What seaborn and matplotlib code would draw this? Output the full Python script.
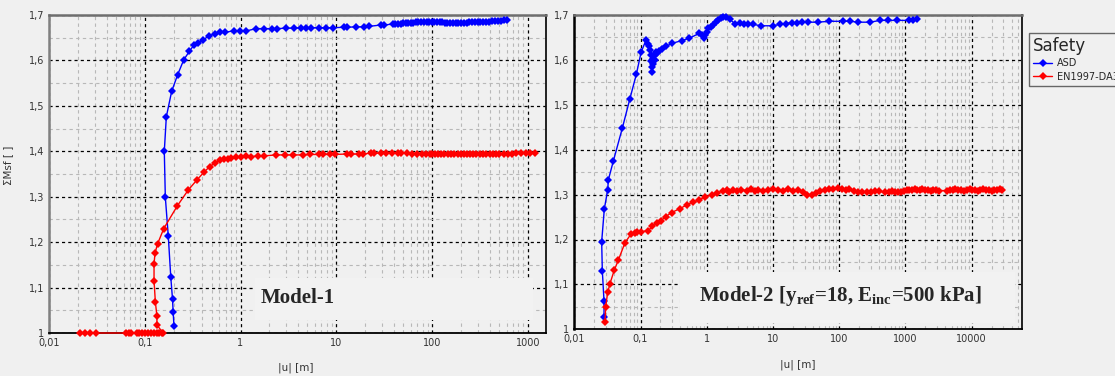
import numpy as np
import pandas as pd
import matplotlib
matplotlib.use("Agg")
import matplotlib.pyplot as plt
import seaborn as sns
from matplotlib.ticker import LogLocator, FixedLocator, FuncFormatter, NullFormatter
from matplotlib.patches import Rectangle

# ---------------- data ----------------
series_names = ["ASD", "EN1997-DA3"]
x_label = "|u| [m]"
y_label = "ΣMsf [ ]"
title1 = "Model-1"
title2 = r"Model-2 [y$_{\mathrm{ref}}$=18, E$_{\mathrm{inc}}$=500 kPa]"
legend_title = "Safety"

m1_asd_u = [0.202, 0.198, 0.195, 0.187, 0.176, 0.164, 0.160, 0.168, 0.191, 0.221, 0.255, 0.292,
            0.324, 0.363, 0.405, 0.468, 0.545, 0.615, 0.687, 0.846, 0.977, 1.15, 1.46, 1.76,
            2.15, 2.4, 3.0, 3.65, 4.28, 4.83, 5.44, 6.65, 7.8, 9.16, 12.1, 13.1, 16.0, 19.6,
            22.1, 29.2, 31.6, 38.7, 41, 44, 47, 50, 53, 56, 60, 64, 68, 72, 77, 82, 88, 94,
            100, 106, 113, 120, 128, 136, 145, 155, 165, 176, 188, 200, 215, 230, 245, 262,
            280, 300, 320, 340, 365, 390, 420, 450, 490, 530, 570, 608]
m1_asd_sf = [1.015, 1.046, 1.074, 1.123, 1.214, 1.299, 1.400, 1.476, 1.532, 1.569, 1.601, 1.620,
             1.633, 1.639, 1.645, 1.654, 1.659, 1.662, 1.662, 1.665, 1.665, 1.665, 1.670, 1.670,
             1.670, 1.670, 1.671, 1.671, 1.672, 1.672, 1.672, 1.672, 1.672, 1.672, 1.673, 1.673, 1.674, 1.674,
             1.675, 1.678, 1.678, 1.680, 1.680, 1.681, 1.681, 1.682, 1.682, 1.683, 1.683, 1.683, 1.684, 1.684, 1.684, 1.685, 1.685, 1.685,
             1.685, 1.685, 1.684, 1.684, 1.684, 1.683, 1.683, 1.683, 1.683, 1.683, 1.682, 1.682, 1.683, 1.683, 1.684, 1.684,
             1.684, 1.684, 1.685, 1.685, 1.685, 1.685, 1.686, 1.686, 1.687, 1.687, 1.688, 1.688]

m1_en_u = [0.021, 0.024, 0.027, 0.031, 0.064, 0.068, 0.072, 0.083, 0.088, 0.094, 0.100, 0.108,
           0.117, 0.125, 0.133, 0.142, 0.150, 0.155, 0.134, 0.134, 0.129, 0.125, 0.125, 0.128,
           0.136, 0.158, 0.219, 0.285, 0.351, 0.415, 0.475, 0.536, 0.604, 0.68, 0.74, 0.80,
           0.90, 1.02, 1.15, 1.30, 1.51, 1.78, 2.35, 2.9, 3.5, 4.5, 5.3, 6.6, 7.3, 8.7, 9.6,
           12.8, 14.3, 17.4, 19.0, 23, 25, 29, 33, 38, 44, 48, 55, 62, 70, 78, 86, 95, 100,
           108, 116, 125, 135, 146, 158, 170, 185, 200, 215, 232, 250, 270, 290, 315, 340,
           370, 400, 430, 465, 500, 560, 620, 690, 760, 850, 950, 1050, 1200]
m1_en_sf = [1.0, 1.0, 1.0, 1.0, 1.0, 1.0, 1.0, 1.0, 1.0, 1.0, 1.0, 1.0,
            1.0, 1.0, 1.0, 1.0, 1.0, 1.0, 1.018, 1.037, 1.069, 1.115, 1.152, 1.176,
            1.196, 1.230, 1.280, 1.315, 1.337, 1.354, 1.366, 1.374, 1.380, 1.383, 1.384, 1.385,
            1.387, 1.387, 1.389, 1.388, 1.390, 1.390, 1.392, 1.392, 1.392, 1.392, 1.393, 1.393, 1.393, 1.393, 1.393,
            1.394, 1.394, 1.394, 1.394, 1.396, 1.396, 1.396, 1.396, 1.396, 1.396, 1.396, 1.396, 1.395, 1.395, 1.395, 1.394, 1.394, 1.394,
            1.393, 1.393, 1.393, 1.393, 1.393, 1.393, 1.393, 1.393, 1.393, 1.393, 1.393, 1.393, 1.393, 1.394, 1.394, 1.394,
            1.394, 1.394, 1.395, 1.395, 1.395, 1.395, 1.395, 1.395, 1.396, 1.396, 1.396, 1.397, 1.397]

m2_asd_u = [0.0281, 0.0281, 0.0265, 0.0259, 0.0284, 0.0319, 0.0327, 0.0389, 0.0531, 0.0687, 0.0865,
            0.102, 0.121, 0.128, 0.134, 0.139, 0.142, 0.145, 0.148, 0.150, 0.153, 0.156, 0.160,
            0.163, 0.167, 0.172, 0.176, 0.190, 0.209, 0.240, 0.302, 0.419, 0.541, 0.766, 0.85,
            0.91, 0.95, 1.00, 1.06, 1.15, 1.26, 1.38, 1.50, 1.65, 1.78, 1.94, 2.25, 2.68, 3.14,
            3.66, 4.25, 5.06, 6.6, 9.9, 12.8, 15.6, 19.2, 23.4, 27.2, 34.3, 47.5, 71, 116, 146,
            195, 293, 415, 553, 741, 1148, 1318, 1480]
m2_asd_sf = [1.028, 1.063, 1.130, 1.195, 1.268, 1.310, 1.333, 1.375, 1.448, 1.512, 1.568,
             1.617, 1.644, 1.636, 1.630, 1.622, 1.610, 1.598, 1.585, 1.574, 1.590, 1.603, 1.612,
             1.600, 1.610, 1.618, 1.615, 1.620, 1.624, 1.630, 1.637, 1.643, 1.648, 1.659, 1.655,
             1.649, 1.655, 1.662, 1.670, 1.673, 1.678, 1.684, 1.689, 1.693, 1.695, 1.695, 1.690, 1.680, 1.682,
             1.681, 1.680, 1.679, 1.676, 1.676, 1.679, 1.681, 1.683, 1.683, 1.684, 1.684, 1.684, 1.686, 1.686, 1.686,
             1.684, 1.684, 1.688, 1.688, 1.688, 1.688, 1.689, 1.690]

m2_en_u = [0.0291, 0.0297, 0.0319, 0.0346, 0.0402, 0.0462, 0.0583, 0.0718, 0.0826, 0.0900, 0.1007,
           0.131, 0.151, 0.176, 0.204, 0.240, 0.295, 0.395, 0.499, 0.628, 0.766, 0.94, 1.19,
           1.41, 1.78, 2.0, 2.2, 2.5, 2.9, 3.3, 4.0, 4.6, 5.3, 6.0, 7.0, 8.5, 10, 12, 14, 17,
           20, 24, 28, 33, 38.5, 45, 52, 60, 70, 82, 95, 110, 125, 140, 165, 190, 220, 260,
           300, 350, 400, 500, 560, 620, 700, 780, 870, 960, 1050, 1150, 1250, 1380, 1500,
           1650, 1800, 2000, 2200, 2400, 2650, 2900, 3200, 4300, 4700, 5200, 5700, 6300,
           7000, 7700, 8500, 9300, 10200, 11200, 12300, 13500, 15000, 16500, 18000, 20000,
           22000, 24500, 27000, 28500]
m2_en_sf = [1.016, 1.049, 1.082, 1.102, 1.132, 1.154, 1.193, 1.212, 1.215, 1.216, 1.217,
            1.220, 1.229, 1.236, 1.242, 1.251, 1.260, 1.269, 1.277, 1.284, 1.288, 1.295, 1.299,
            1.304, 1.308, 1.310, 1.306, 1.310, 1.307, 1.311, 1.309, 1.312, 1.308, 1.311, 1.309, 1.311, 1.313, 1.310, 1.309, 1.312,
            1.307, 1.310, 1.305, 1.300, 1.298, 1.303, 1.308, 1.310, 1.312, 1.313, 1.314, 1.313, 1.310, 1.312, 1.309, 1.306, 1.305, 1.306,
            1.305, 1.308, 1.307, 1.306, 1.305, 1.307, 1.306, 1.305, 1.306, 1.307, 1.310, 1.311, 1.310, 1.312, 1.311,
            1.310, 1.312, 1.311, 1.310, 1.309, 1.311, 1.310, 1.309, 1.309, 1.311, 1.310, 1.312, 1.310,
            1.311, 1.309, 1.310, 1.312, 1.311, 1.310, 1.309, 1.311, 1.312, 1.310, 1.311, 1.309,
            1.310, 1.311, 1.312, 1.311]

y_ticks = [1.0, 1.1, 1.2, 1.3, 1.4, 1.5, 1.6, 1.7]

colors = {"ASD": "#0000ff", "EN1997-DA3": "#ff0000"}

# ---------------- style ----------------
sns.set_style("white")
bg = "#f0f0f0"
plt.rcParams["font.family"] = ["DejaVu Sans"]
plt.rcParams["mathtext.fontset"] = "custom"
plt.rcParams["mathtext.rm"] = "Liberation Serif:bold"

fig = plt.figure(figsize=(11.15, 3.76), dpi=100, facecolor=bg)

ax1 = fig.add_axes([49 / 1115, 1 - 333 / 376, (546 - 49) / 1115, (333 - 15) / 376])
ax2 = fig.add_axes([574.3 / 1115, 1 - 329.3 / 376, (1021.7 - 574.3) / 1115, (329.3 - 15) / 376])


def fmt_y(v, pos):
    s = f"{v:.1f}".replace(".", ",")
    return "1" if s == "1,0" else s


def fmt_x(v, pos):
    if v >= 1:
        return f"{v:.0f}"
    s = f"{v:g}".replace(".", ",")
    return s


def style_axis(ax, xmax, left_spine_color):
    ax.set_facecolor(bg)
    ax.set_xscale("log")
    ax.set_xlim(0.01, xmax)
    ax.set_ylim(1.0, 1.7)
    ax.yaxis.set_major_locator(FixedLocator(y_ticks))
    ax.yaxis.set_minor_locator(FixedLocator([1.05, 1.15, 1.25, 1.35, 1.45, 1.55, 1.65]))
    ax.yaxis.set_major_formatter(FuncFormatter(fmt_y))
    ax.xaxis.set_major_locator(LogLocator(base=10, numticks=20))
    ax.xaxis.set_minor_locator(LogLocator(base=10, subs=np.arange(2, 10), numticks=20))
    ax.xaxis.set_major_formatter(FuncFormatter(fmt_x))
    ax.xaxis.set_minor_formatter(NullFormatter())
    ax.grid(which="major", color="#000000", linestyle=(0, (2.5, 2.5)), linewidth=0.9)
    ax.grid(which="minor", color="#b8b8b8", linestyle=(0, (3, 3)), linewidth=0.8)
    ax.tick_params(which="both", direction="in", labelsize=7, labelcolor="#333333",
                   length=3, width=0.8, color="#333333")
    ax.tick_params(which="minor", length=2)
    ax.set_axisbelow(True)
    for side in ["top", "right", "bottom", "left"]:
        ax.spines[side].set_visible(True)
    ax.spines["top"].set_color("#6e6e6e")
    ax.spines["top"].set_linewidth(1.8)
    ax.spines["left"].set_color(left_spine_color)
    ax.spines["left"].set_linewidth(1.8)
    ax.spines["right"].set_color("#111111")
    ax.spines["right"].set_linewidth(1.3)
    ax.spines["bottom"].set_color("#000000")
    ax.spines["bottom"].set_linewidth(1.3)
    ax.set_xlabel("")
    ax.set_ylabel("")


def draw(ax, u, sf, name):
    df = pd.DataFrame({"u": u, "sf": sf})
    sns.lineplot(data=df, x="u", y="sf", ax=ax, sort=False, estimator=None,
                 color=colors[name], linewidth=1.0, marker="D", markersize=4.0,
                 markeredgewidth=0, zorder=3, clip_on=False)


draw(ax1, m1_asd_u, m1_asd_sf, "ASD")
draw(ax1, m1_en_u, m1_en_sf, "EN1997-DA3")
draw(ax2, m2_asd_u, m2_asd_sf, "ASD")
draw(ax2, m2_en_u, m2_en_sf, "EN1997-DA3")

style_axis(ax1, 1550, "#808080")
style_axis(ax2, 57000, "#000000")

# label boxes
ax1.add_patch(Rectangle((0.414, 0.041), 0.560, 0.132, transform=ax1.transAxes,
                        facecolor="#f2f2f2", edgecolor="none", zorder=2.5))
ax1.text(0.425, 0.11, title1, transform=ax1.transAxes, fontsize=15, fontweight="bold",
         family="Liberation Serif", ha="left", va="center", zorder=4)
ax2.add_patch(Rectangle((0.236, 0.020), 0.750, 0.162, transform=ax2.transAxes,
                        facecolor="#f2f2f2", edgecolor="none", zorder=2.5))
ax2.text(0.279, 0.106, title2, transform=ax2.transAxes, fontsize=15, fontweight="bold",
         family="Liberation Serif", ha="left", va="center", zorder=4)

# axis labels
fig.text(296 / 1115, 1 - 368 / 376, x_label, fontsize=7.5, color="#333333", ha="center", va="center")
fig.text(798 / 1115, 1 - 365 / 376, x_label, fontsize=7.5, color="#333333", ha="center", va="center")
fig.text(8 / 1115, 1 - 165 / 376, y_label, fontsize=7.5, color="#333333", ha="center", va="center",
         rotation=90)

# legend
handles = [plt.Line2D([], [], color=colors[n], marker="D", markersize=4, markeredgewidth=0,
                      linewidth=1.0) for n in series_names]
leg = fig.legend(handles, series_names, title=legend_title, loc="upper left",
                 bbox_to_anchor=(1029 / 1115, 1 - 33 / 376), fontsize=7, title_fontsize=12,
                 frameon=True, fancybox=False, handlelength=2.0, handletextpad=0.5,
                 borderpad=0.4, labelspacing=0.35, borderaxespad=0)
leg.get_frame().set_edgecolor("#444444")
leg.get_frame().set_facecolor(bg)
leg.get_frame().set_linewidth(1.0)
leg._legend_box.align = "left"

fig.savefig("out.png", dpi=100, facecolor=bg)
